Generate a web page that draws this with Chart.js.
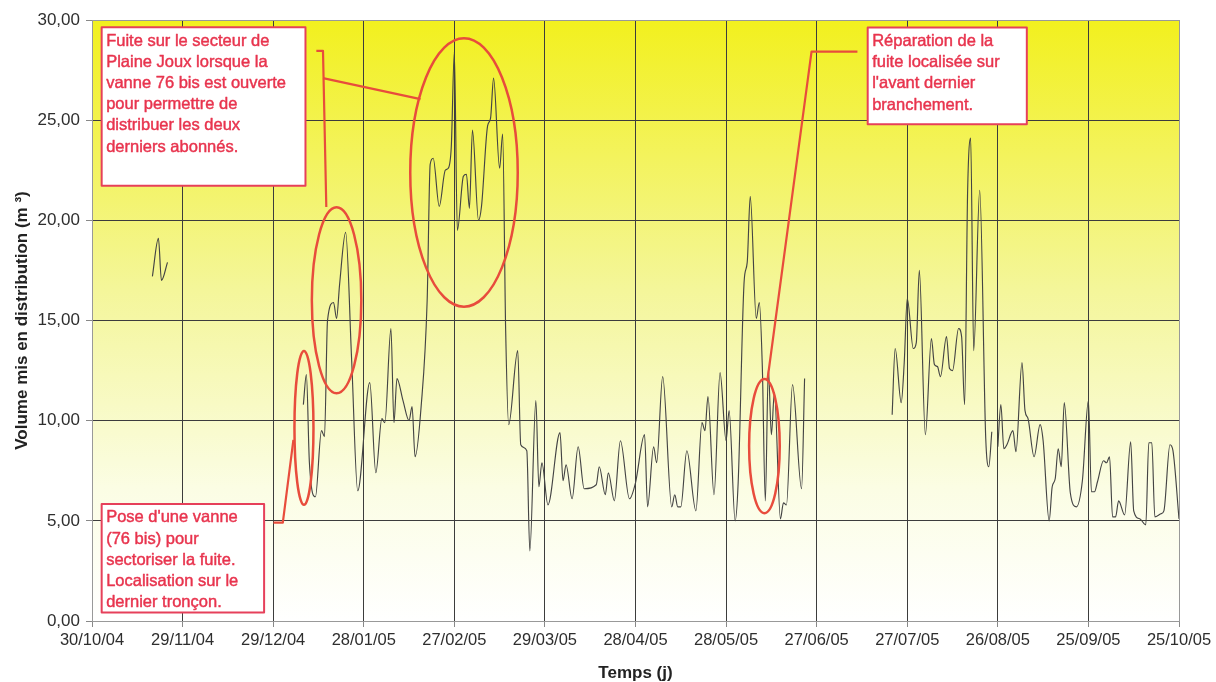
<!DOCTYPE html>
<html lang="fr">
<head>
<meta charset="utf-8">
<title>Volume mis en distribution</title>
<script src="https://cdn.jsdelivr.net/npm/chart.js@4.4.3/dist/chart.umd.min.js"></script>
<style>
  html, body { margin: 0; padding: 0; background: #fff; }
  canvas { display: block; }
</style>
</head>
<body>
<canvas id="myChart" width="1216" height="682"></canvas>
<script>
// x axis: days counted from 30/10/04, one tick every 30 days
const tickLabels = ['30/10/04', '29/11/04', '29/12/04', '28/01/05', '27/02/05', '29/03/05',
  '28/04/05', '28/05/05', '27/06/05', '27/07/05', '26/08/05', '25/09/05', '25/10/05']

// daily volume (m3), null where the meter was not read
const days = [
  20, 22, 23, 25, 26,
  70, 71, 72, 74, 76, 77, 78, 80, 81, 82, 84, 86, 88,
  92, 94, 96, 97, 99, 100, 101, 103, 105, 106, 107, 109, 111,
  112, 113, 115, 117, 118, 119, 120, 121, 123, 124, 125, 126, 128, 129, 131, 132, 133, 135, 136,
  137, 138, 141, 142, 144, 145, 147, 148, 149, 151, 155, 156, 157, 159, 161, 163,
  167, 168, 170, 171, 173, 175, 178, 180, 183, 184, 186, 187, 189, 192, 193, 194, 195, 197,
  200, 202, 203, 204, 206, 208, 210, 211, 213, 214, 216, 217, 218, 220, 221, 222, 223, 224,
  225, 226, 228, 229, 230, 232, 235, 236, 237,
  265, 266, 268, 269, 270, 272, 273, 274, 276, 278, 279, 280, 281, 283, 284, 285, 287, 288,
  289, 290, 291, 292, 294, 296, 297, 298, 299,
  300, 301, 302, 303, 305, 306, 308, 309, 310, 312, 314, 315, 317, 318, 319, 320, 321, 322,
  324, 326, 328, 330, 331, 332, 333, 335, 336, 337, 338, 339, 340, 342, 344, 345, 347, 349,
  350, 351, 352, 354, 355, 357, 358, 360
]
const volumes = [
  17.2, 19.1, 17.0, 17.9, null,
  10.8, 12.3, 7.9, 6.2, 9.5, 9.2, 15.0, 15.9, 15.1, 16.8, 19.4, 13.0, 6.5,
  11.9, 7.4, 10.1, 9.9, 14.6, 9.9, 12.1, 11.0, 10.0, 10.7, 8.2, 10.7, 16.0,
  22.8, 23.1, 20.7, 22.5, 22.6, 23.7, 28.4, 19.5, 22.2, 22.3, 20.6, 24.5, 20.0, 20.7, 24.7, 25.1, 27.1, 22.6, 24.3,
  14.5, 9.8, 13.5, 8.8, 8.5, 3.5, 11.0, 6.7, 7.9, 5.8, 9.4, 7.0, 7.8, 6.1, 8.7, 6.6,
  6.8, 7.7, 6.3, 7.4, 6.0, 9.0, 6.1, 6.9, 9.3, 5.7, 8.7, 7.9, 12.2, 5.7, 6.3, 5.7, 5.7, 8.5,
  5.5, 9.9, 9.5, 11.2, 6.3, 12.4, 9.0, 10.5, 5.0, 6.9, 17.0, 17.9, 21.2, 15.1, 15.9, 12.7, 6.0, 12.6,
  9.3, 11.4, 5.1, 5.9, 5.8, 11.8, 6.6, 12.1, null,
  10.3, 13.6, 10.9, 12.9, 16.1, 13.6, 13.9, 17.5, 9.3, 14.1, 12.8, 12.7, 12.2, 14.2, 12.6, 12.5, 14.6, 14.2,
  10.8, 21.5, 24.1, 13.5, 21.5, 9.1, 7.7, 9.45, null,
  8.7, 10.8, 8.6, 8.8, 9.5, 8.45, 12.9, 10.5, 10.1, 8.2, 9.8, 9.0, 5.0, 6.7, 7.1, 8.6, 7.7, 10.9,
  6.4, 5.7, 7.0, 11.0, 6.45, 6.45, 6.95, 8.0, 7.9, 8.2, 5.2, 5.2, 6.0, 5.3, 8.95, 5.5, 5.1, 4.8,
  8.9, 8.9, 5.2, 5.35, 5.5, 8.8, 8.5, 5.1
]

const noteLeak = ['Fuite sur le secteur de', 'Plaine Joux lorsque la', 'vanne 76 bis est ouverte',
  'pour permettre de', 'distribuer les deux', 'derniers abonnés.']
const noteRepair = ['Réparation de la', 'fuite localisée sur', "l'avant dernier", 'branchement.']
const noteValve = ["Pose d'une vanne", '(76 bis) pour', 'sectoriser la fuite.',
  'Localisation sur le', 'dernier tronçon.']

// call-outs, placed in axis units (day, m3)
const boxes = [
  {lines: noteLeak, x0: 3.2, x1: 70.7, y0: 29.64, y1: 21.73},
  {lines: noteRepair, x0: 256.9, x1: 309.6, y0: 29.62, y1: 24.8},
  {lines: noteValve, x0: 3.2, x1: 57.0, y0: 5.84, y1: 0.43}
]
const rings = [
  {x: 70.2, y: 9.64, rx: 3.15, ry: 3.84},
  {x: 81.0, y: 16.01, rx: 8.19, ry: 4.64},
  {x: 123.2, y: 22.39, rx: 17.8, ry: 6.70},
  {x: 222.7, y: 8.73, rx: 5.07, ry: 3.35}
]
const leaders = [
  [[74.3, 28.46], [76.5, 28.46], [77.6, 20.67]],
  [[76.5, 27.1], [108.8, 26.05]],
  [[253.5, 28.42], [238.3, 28.42], [223.7, 12.03]],
  [[60.1, 4.91], [63.2, 4.91], [66.7, 9.04]]
]

const plotBackground = {
  id: 'plotBackground',
  beforeDraw(chart) {
    const {ctx, chartArea: a} = chart
    const g = ctx.createLinearGradient(0, a.top, 0, a.bottom)
    g.addColorStop(0, '#f2f01e')
    g.addColorStop(0.45, '#f4f69a')
    g.addColorStop(0.78, '#fbfde4')
    g.addColorStop(1, '#ffffff')
    ctx.save()
    ctx.fillStyle = g
    ctx.fillRect(a.left, a.top, a.right - a.left, a.bottom - a.top)
    ctx.restore()
  }
}

const callouts = {
  id: 'callouts',
  afterDatasetsDraw(chart) {
    const {ctx} = chart
    const xs = chart.scales.x
    const ys = chart.scales.y
    const px = (v) => xs.getPixelForValue(v)
    const py = (v) => ys.getPixelForValue(v)
    ctx.save()

    ctx.strokeStyle = '#e84c3c'
    ctx.lineWidth = 2.5
    rings.forEach((r) => {
      ctx.beginPath()
      ctx.ellipse(px(r.x), py(r.y), Math.abs(px(r.x + r.rx) - px(r.x)), Math.abs(py(r.y + r.ry) - py(r.y)), 0, 0, Math.PI * 2)
      ctx.stroke()
    })

    ctx.lineWidth = 2.2
    ctx.lineJoin = 'round'
    leaders.forEach((pts) => {
      ctx.beginPath()
      pts.forEach(([x, y], i) => i ? ctx.lineTo(px(x), py(y)) : ctx.moveTo(px(x), py(y)))
      ctx.stroke()
    })

    boxes.forEach((b) => {
      const left = px(b.x0)
      const top = py(b.y0)
      const w = px(b.x1) - left
      const h = py(b.y1) - top
      ctx.fillStyle = '#ffffff'
      ctx.fillRect(left, top, w, h)
      ctx.strokeStyle = '#e6405a'
      ctx.lineWidth = 2
      ctx.strokeRect(left, top, w, h)
      ctx.font = '16.5px "Liberation Sans", Arial, sans-serif'
      ctx.fillStyle = '#e8344e'
      ctx.strokeStyle = '#e8344e'
      ctx.lineWidth = 0.45
      ctx.textBaseline = 'alphabetic'
      b.lines.forEach((t, i) => {
        const y = top + 18.3 + i * 21.2
        ctx.fillText(t, left + 4.5, y)
        ctx.strokeText(t, left + 4.5, y)
      })
    })
    ctx.restore()
  }
}

const ctx = document.getElementById('myChart')
new Chart(ctx, {
  type: 'line',
  data: {
    datasets: [{
      data: volumes.map((v, i) => ({x: days[i], y: v})),
      borderColor: '#444',
      borderWidth: 1.15,
      pointRadius: 0,
      cubicInterpolationMode: 'monotone',
      spanGaps: false
    }]
  },
  options: {
    responsive: false,
    animation: false,
    layout: {padding: {top: 20, right: 37, left: 0, bottom: 0}},
    plugins: {legend: {display: false}, tooltip: {enabled: false}},
    scales: {
      x: {
        type: 'linear',
        min: 0,
        max: 360,
        afterFit(s) { s.height = 61 },
        ticks: {
          stepSize: 30,
          autoSkip: false,
          maxRotation: 0,
          padding: 4,
          color: '#2e2e2e',
          font: {family: '"Liberation Sans", Arial, sans-serif', size: 16.5},
          callback: (v) => tickLabels[v / 30]
        },
        grid: {
          color: (c) => c.tick && c.tick.value === 360 ? '#999' : '#3c3c3c',
          tickColor: '#888',
          tickLength: 6
        },
        border: {color: '#999'},
        title: {
          display: true,
          text: 'Temps (j)',
          color: '#222',
          padding: {top: 0, bottom: -2},
          font: {family: '"Liberation Sans", Arial, sans-serif', size: 17, weight: 'bold'}
        }
      },
      y: {
        min: 0,
        max: 30,
        afterFit(s) { s.width = 92 },
        ticks: {
          stepSize: 5,
          padding: 6,
          color: '#2e2e2e',
          font: {family: '"Liberation Sans", Arial, sans-serif', size: 17},
          callback: (v) => v.toFixed(2).replace('.', ',')
        },
        grid: {
          color: (c) => c.tick && c.tick.value === 30 ? '#999' : '#3c3c3c',
          tickColor: '#888',
          tickLength: 6
        },
        border: {color: '#999'},
        title: {
          display: true,
          text: 'Volume mis en distribution (m ³)',
          color: '#222',
          padding: {top: 12, bottom: 0},
          font: {family: '"Liberation Sans", Arial, sans-serif', size: 17, weight: 'bold'}
        }
      }
    }
  },
  plugins: [plotBackground, callouts]
})
</script>
</body>
</html>
